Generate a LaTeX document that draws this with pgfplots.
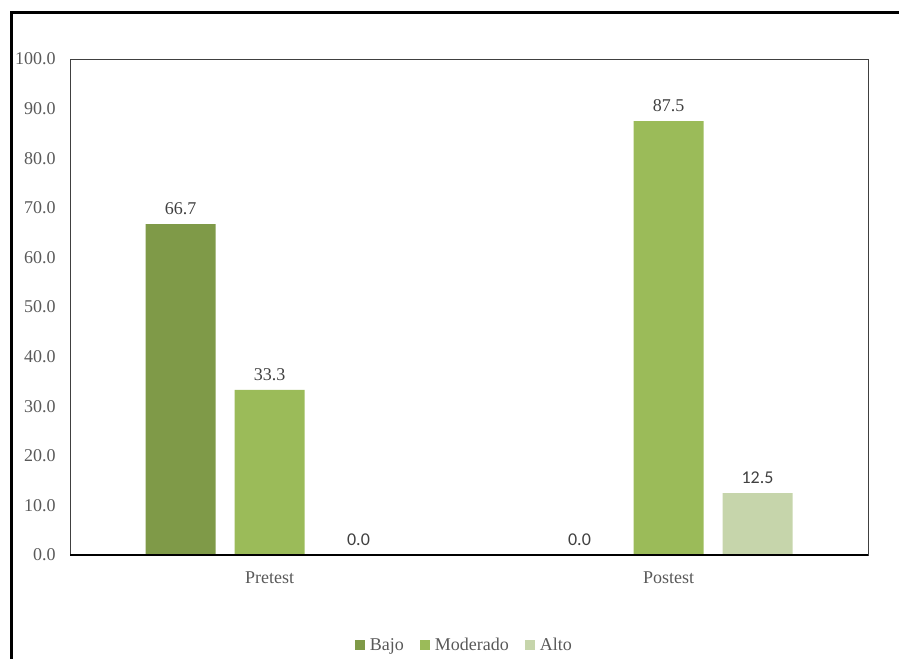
\documentclass[border=0pt]{standalone}
\usepackage{fontspec}
\setmainfont{Liberation Serif}
\newfontfamily\calibri{Carlito}
\usepackage{pgfplots}
\pgfplotsset{compat=1.18}

\definecolor{bajo}{HTML}{7F9A48}
\definecolor{moderado}{HTML}{9BBB59}
\definecolor{alto}{HTML}{C6D5AB}
\definecolor{txt}{HTML}{595959}
\definecolor{lbl}{HTML}{404040}

\begin{document}
\begin{tikzpicture}[x=1bp,y=1bp]
\useasboundingbox (0,0) rectangle (899,-659);
% outer chart frame, running off the right and bottom of the page
\begin{scope}
  \clip (0,0) rectangle (899,-659);
  \draw[line width=2.2bp] (11.5,-12.5) rectangle (960,-720);
\end{scope}
\begin{axis}[
  at={(70bp,-555bp)}, anchor=south west,
  scale only axis, width=798bp, height=496bp,
  ymin=0, ymax=100, ytick={0,10,...,100},
  xmin=-0.5, xmax=1.5, xtick={0,1}, xticklabels={Pretest,Postest},
  major tick length=0pt,
  axis line style={draw=black!75, line width=0.8bp},
  tick label style={font=\rmfamily\fontsize{18bp}{21bp}\selectfont, text=txt},
  yticklabel={\pgfmathprintnumber[fixed,fixed zerofill,precision=1,assume math mode=true]{\tick}},
  yticklabel style={anchor=east, inner xsep=0pt, xshift=-14.3bp},
  xticklabel style={anchor=north, inner ysep=0pt, yshift=-17bp},
  ybar, bar width=70bp,
  nodes near coords={\pgfplotspointmeta},
  point meta=explicit symbolic,
  every node near coord/.append style={font=\rmfamily\fontsize{18bp}{21bp}\selectfont, text=lbl, anchor=south, inner sep=0pt, yshift=9bp},
  legend columns=-1,
  legend style={at={(0.493,-0.181)}, anchor=center, draw=none, fill=none,
    font=\rmfamily\fontsize{18bp}{21bp}\selectfont, text=txt,
    column sep=0pt,
    nodes={inner xsep=0pt, inner ysep=0pt},
    /tikz/every even column/.append style={column sep=16bp}},
  legend image code/.code={
    \fill[#1,draw=none] (0bp,-5bp) rectangle (10bp,5bp);
    \path (15bp,0bp);
  },
]
% Bajo, Moderado, Alto at Pretest (0) and Postest (1)
\addplot[fill=bajo, draw=none, bar shift=-89bp]
  coordinates {(0,66.7) [{\rmfamily 66.7}] (1,0) [{\calibri 0.0}]};
\addplot[fill=moderado, draw=none, bar shift=0bp]
  coordinates {(0,33.3) [{\rmfamily 33.3}] (1,87.5) [{\rmfamily 87.5}]};
\addplot[fill=alto, draw=none, bar shift=89bp]
  coordinates {(0,0) [{\calibri 0.0}] (1,12.5) [{\calibri 12.5}]};
\legend{Bajo,Moderado,Alto}
\draw[black, line width=1.3bp] (rel axis cs:0,0) -- (rel axis cs:1,0);
\end{axis}
\end{tikzpicture}
\end{document}
